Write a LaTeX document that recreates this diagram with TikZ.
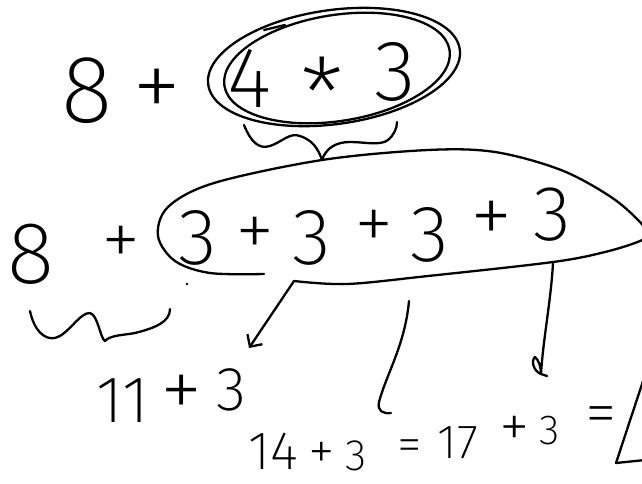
\documentclass[tikz,border=0pt]{standalone}
\usepackage{fontspec}
\usetikzlibrary{arrows.meta}
\IfFontExistsTF{Fira Sans ExtraLight}{\newfontfamily\hand{Fira Sans ExtraLight}}{\newfontfamily\hand{Fira Sans}}
\tikzset{
  stroke/.style={line width=2.3pt, line cap=round, line join=round},
  tk/.style={inner sep=0pt, font=\hand\fontsize{#1}{#1}\selectfont},
}
\begin{document}
\begin{tikzpicture}[x=1pt,y=-1pt]
\useasboundingbox[fill=white] (0,0) rectangle (642,483);
% row 1
\node[tk=96] (a8) at (87,91) {8};
\node[tk=100] (ap) at (157,94) {+};
\node[tk=86] (a4) at (250,78) {4};
\node[tk=100] (as) at (322,94) {*};
\node[tk=86] (a3) at (395,72) {3};
\draw[stroke] (334,67) ellipse [x radius=127, y radius=57, rotate=8];
\draw[stroke] (337,68) ellipse [x radius=114, y radius=53, rotate=9];
\draw[stroke] (264,30) -- (285,25);
% brace under product
\coordinate (btip) at (322,160);
\draw[stroke] (244,125) .. controls (250,140) and (258,150) .. (270,146)
  .. controls (282,142) and (290,132) .. (300,136)
  .. controls (312,140) and (318,148) .. (btip);
\draw[stroke] (btip) .. controls (326,148) and (336,142) .. (350,142)
  .. controls (365,142) and (380,146) .. (388,140)
  .. controls (394,135) and (397,128) .. (397,122);
% row 2
\node[tk=88] (b8) at (31,254) {8};
\node[tk=80] (bp0) at (121,246) {+};
\node[tk=80] (b31) at (198,238) {3};
\node[tk=80] (bp1) at (255,237) {+};
\node[tk=80] (b32) at (312,238) {3};
\node[tk=80] (bp2) at (374,230) {+};
\node[tk=80] (b33) at (430,235) {3};
\node[tk=86] (bp3) at (492,223) {+};
\node[tk=78] (b34) at (552,215) {3};
% big ellipse
\draw[stroke] plot[smooth, tension=0.55] coordinates {(264,274) (210,273) (175,261) (158,236) (168,207) (214,183) (322,160) (428,150) (495,152) (561,170) (611,197) (640,222) (646,234) (640,241) (605,252) (553,262) (428,276) (347,284) (294,281)};
\coordinate (o1) at (294,281);
\coordinate (o2) at (409,301);
\coordinate (o3) at (553,263);
\fill (187,284) circle (1.3);
% brace under 8 +
\draw[stroke] (30,311) .. controls (34,330) and (44,340) .. (55,338)
  .. controls (68,335) and (80,312) .. (90,313)
  .. controls (98,315) and (100,338) .. (105,341)
  .. controls (110,335) and (125,335) .. (135,333)
  .. controls (155,328) and (170,322) .. (170,309);
% row 3
\node[tk=66] (c11) at (123,401) {11};
\node[tk=86] (cp) at (182,397) {+};
\node[tk=62] (c3) at (231,390) {3};
\coordinate (e1) at (249,348);
\draw[stroke, -{Straight Barb[length=9pt,width=18pt]}] (o1) -- (e1);
% arrow 2
\draw[stroke] (o2) .. controls (405,345) and (386,375) .. (379,402)
  .. controls (377,411) and (383,414) .. (391,413);
% arrow 3
\draw[stroke] (o3) .. controls (551,300) and (543,340) .. (541,374)
  .. controls (533,371) and (531,360) .. (535,357)
  .. controls (539,360) and (541,368) .. (541,374) -- (547,376);
% row 4
\node[tk=54] (d14) at (273,451) {14};
\node[tk=54] (dp1) at (322,456) {+};
\node[tk=44] (d3a) at (356,456) {3};
\node[tk=50] (deq1) at (410,451) {=};
\node[tk=48] (d17) at (458,443) {17};
\node[tk=62] (dp2) at (515,432) {+};
\node[tk=42] (d3b) at (550,431) {3};
\node[tk=64] (deq2) at (601,421) {=};
\draw[stroke] (645,375) -- (616,463) -- (645,460);
\end{tikzpicture}
\end{document}
